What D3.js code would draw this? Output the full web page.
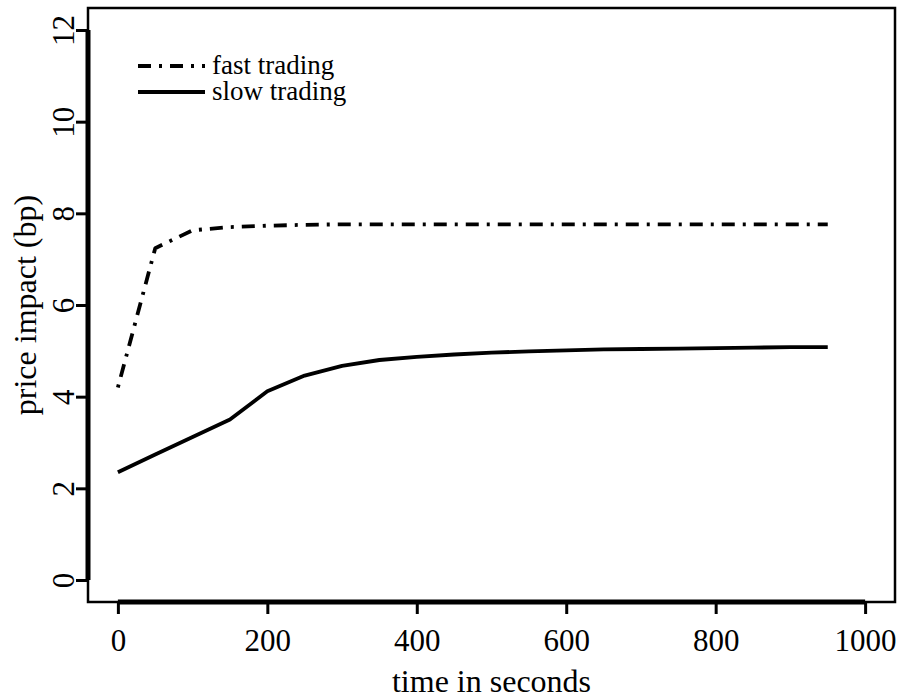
<!DOCTYPE html>
<html>
<head>
<meta charset="utf-8">
<script src="https://cdn.jsdelivr.net/npm/d3@7"></script>
<style>
  body { margin: 0; background: #fff; }
  text { font-family: "Liberation Serif", "DejaVu Serif", serif; fill: #000; }
</style>
</head>
<body>
<svg id="chart" width="907" height="700"></svg>
<script>
// data
var times = [0, 50, 100, 150, 200, 250, 300, 350, 400, 450, 500, 550, 600, 650, 700, 750, 800, 850, 900, 950];
var fastTrading = [4.2, 7.24, 7.63, 7.7, 7.73, 7.75, 7.76, 7.76, 7.76, 7.76, 7.76, 7.76, 7.76, 7.76, 7.76, 7.76, 7.76, 7.76, 7.76, 7.76];
var slowTrading = [2.35, 2.74, 3.12, 3.5, 4.12, 4.46, 4.67, 4.8, 4.87, 4.92, 4.96, 4.99, 5.01, 5.03, 5.04, 5.05, 5.06, 5.07, 5.08, 5.08];
var xTicks = [0, 200, 400, 600, 800, 1000];
var yTicks = [0, 2, 4, 6, 8, 10, 12];
var seriesNames = ["fast trading", "slow trading"];

var svg = d3.select("#chart");
var pLeft = 88, pRight = 895, pTop = 8, pBottom = 602;
var fsTick = 31, fsTitle = 32, fsLegend = 27;

// R-style 4% padding around the limits
var x = d3.scaleLinear().domain([-40, 1040]).range([pLeft, pRight]);
var y = d3.scaleLinear().domain([-0.48, 12.48]).range([pBottom, pTop]);

// plot box
svg.append("rect")
    .attr("x", pLeft)
    .attr("y", pTop)
    .attr("width", pRight - pLeft)
    .attr("height", pBottom - pTop)
    .style("fill", "none")
    .style("stroke", "#000")
    .style("stroke-width", 2.5);

// x axis
var xAxis = svg.append("g")
    .attr("transform", "translate(0," + pBottom + ")")
    .call(d3.axisBottom(x).tickValues(xTicks).tickFormat(d3.format("d"))
      .tickSize(12).tickPadding(15).tickSizeOuter(0));
xAxis.select(".domain")
    .attr("d", "M" + x(0) + ",0H" + x(1000))
    .style("stroke-width", 5);
xAxis.selectAll(".tick line").style("stroke-width", 3);
xAxis.selectAll(".tick text")
    .style("font-size", fsTick + "px")
    .style("font-family", "Liberation Serif");

// y axis
var yAxis = svg.append("g")
    .attr("transform", "translate(" + pLeft + ",0)")
    .call(d3.axisLeft(y).tickValues(yTicks).tickFormat(d3.format("d"))
      .tickSize(12).tickSizeOuter(0));
yAxis.select(".domain")
    .attr("d", "M0," + y(0) + "V" + y(12))
    .style("stroke-width", 5);
yAxis.selectAll(".tick line").style("stroke-width", 3);
yAxis.selectAll(".tick text")
    .attr("x", null)
    .attr("dy", null)
    .attr("transform", "translate(-14,0) rotate(-90)")
    .style("text-anchor", "middle")
    .style("font-size", fsTick + "px")
    .style("font-family", "Liberation Serif");

// axis titles
svg.append("text")
    .text("time in seconds")
    .attr("x", (pLeft + pRight) / 2)
    .attr("y", 692)
    .style("text-anchor", "middle")
    .style("font-size", fsTitle + "px");
svg.append("text")
    .text("price impact (bp)")
    .attr("transform", "translate(36," + ((pTop + pBottom) / 2) + ") rotate(-90)")
    .style("text-anchor", "middle")
    .style("font-size", fsTitle + "px");

// lines
var line = d3.line()
    .x(function(d) { return x(d[0]); })
    .y(function(d) { return y(d[1]); });

var dashes = ["3,8,13,8", null];
var seriesData = [fastTrading, slowTrading];

svg.selectAll("series_lines")
    .data(seriesData)
    .enter()
    .append("path")
    .attr("d", function(d) {
      return line(d3.zip(times, d));
    })
    .style("fill", "none")
    .style("stroke", "#000")
    .style("stroke-width", 3.8)
    .style("stroke-linejoin", "round")
    .style("stroke-dasharray", function(d, i) { return dashes[i]; });

// legend
svg.selectAll("legend_lines")
    .data(seriesNames)
    .enter()
    .append("line")
    .attr("x1", 138)
    .attr("x2", 205)
    .attr("y1", function(d, i) { return 66 + i * 26; })
    .attr("y2", function(d, i) { return 66 + i * 26; })
    .style("stroke", "#000")
    .style("stroke-width", 3.8)
    .style("stroke-dasharray", function(d, i) { return i == 0 ? "13,8,3,8" : null; });
svg.selectAll("legend_text")
    .data(seriesNames)
    .enter()
    .append("text")
    .attr("x", 212)
    .attr("y", function(d, i) { return 66 + i * 26; })
    .attr("dy", "0.3em")
    .text(function(d) { return d; })
    .style("font-size", fsLegend + "px");
</script>
</body>
</html>
